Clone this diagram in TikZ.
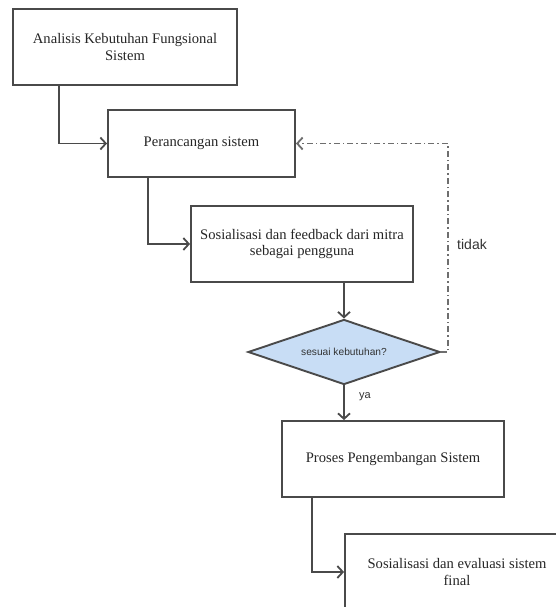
\documentclass[tikz,border=0pt]{standalone}
\usepackage{fontspec}
\setmainfont{Liberation Serif}
\newfontfamily\arialf{Liberation Sans}
\usetikzlibrary{shapes.geometric,arrows.meta}
\definecolor{ln}{HTML}{4A4A4A}
\definecolor{dfill}{HTML}{C8DDF5}
\tikzset{
  box/.style={draw=ln, line width=1.9pt, fill=white, rectangle, align=center,
    font=\fontsize{14.6}{16.5}\selectfont, text=black!85, inner sep=0pt},
  dec/.style={draw=ln, line width=1.9pt, fill=dfill, diamond, aspect=2.95,
    inner sep=0pt, font=\arialf\fontsize{10.2}{12}\selectfont, text=black!80},
  arr/.style={draw=ln, line width=1.8pt, -{Straight Barb[length=5.5pt,width=12pt,line width=1.8pt]}},
  dd/.style={draw=ln!80, line width=1.8pt, dash pattern=on 6pt off 3pt on 1.5pt off 3pt,
    -{Straight Barb[length=5.5pt,width=12pt,line width=1.8pt]}},
  lbl/.style={font=\arialf\fontsize{12}{14}\selectfont, text=black!80, inner sep=0pt}
}
\begin{document}
\begin{tikzpicture}[x=1pt,y=-1pt]
\useasboundingbox (0,0) rectangle (556,607);
\clip (0,0) rectangle (556,607);
\fill[white] (0,0) rectangle (556,607);
\node[box, minimum width=224pt, minimum height=76pt] (b1) at (125,47) {Analisis Kebutuhan Fungsional\\Sistem};
\node[box, minimum width=187pt, minimum height=67pt] (b2) at (201.5,143.5) {Perancangan sistem};
\node[box, minimum width=222pt, minimum height=76pt] (b3) at (302,244) {Sosialisasi dan feedback dari mitra\\sebagai pengguna};
\node[dec, minimum width=192pt, minimum height=65pt] (d) at (344,352) {sesuai kebutuhan?};
\node[box, minimum width=222pt, minimum height=76pt] (b4) at (393,459) {Proses Pengembangan Sistem};
\node[box, minimum width=224pt, minimum height=76pt] (b5) at (457,572) {Sosialisasi dan evaluasi sistem\\final};
\coordinate (c1) at (448,352);
\draw[arr] ([xshift=47pt]b1.south west) |- (b2.west);
\draw[arr] ([xshift=41pt]b2.south west) |- (b3.west);
\draw[arr] (d.north |- b3.south) -- (d.north);
\draw[arr] (d.south) -- (d.south |- b4.north);
\draw[arr] ([xshift=31pt]b4.south west) |- (b5.west);
\draw[dd] (d.east) -- (c1) |- (b2.east);
\node[lbl, font=\arialf\fontsize{14}{16}\selectfont] (t1) at (472,244) {tidak};
\node[lbl, font=\arialf\fontsize{11}{13}\selectfont] (t2) at (365,397) {ya};
\end{tikzpicture}
\end{document}
